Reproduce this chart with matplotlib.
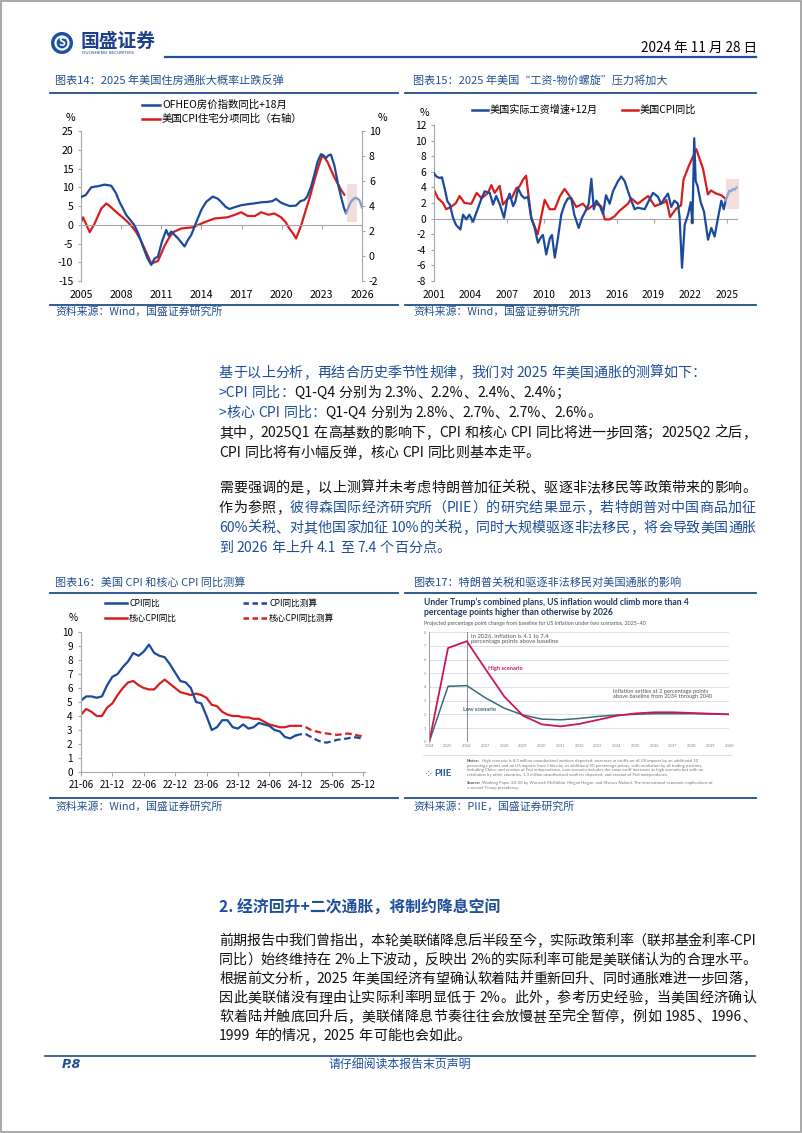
import numpy as np
import matplotlib
matplotlib.use("Agg")
import matplotlib.pyplot as plt
from matplotlib.lines import Line2D
from matplotlib.patches import Rectangle, Ellipse

plt.rcParams['font.family'] = ['Noto Sans CJK SC', 'DejaVu Sans']
plt.rcParams['axes.unicode_minus'] = False

# ---------------- data ----------------
# chart 14: OFHEO house price yoy (+18m, left axis) and CPI shelter yoy (right axis)
ofheo = [(2005.0, 7.4), (2005.35, 7.9), (2005.77, 10.0), (2006.3, 10.3), (2006.76, 10.7),
         (2007.26, 10.4), (2007.6, 8.5), (2007.88, 6.1), (2008.38, 2.6), (2008.7, 1.2),
         (2009.0, -0.2), (2009.3, -2.5), (2009.63, -5.8), (2009.95, -8.8), (2010.25, -10.7),
         (2010.5, -9.0), (2010.75, -8.5), (2011.05, -4.5), (2011.37, -1.4), (2011.55, -2.9),
         (2011.74, -1.8), (2012.24, -3.6), (2012.74, -5.8), (2013.0, -4.0), (2013.24, -2.7),
         (2013.73, 1.7), (2014.0, 4.0), (2014.35, 6.1), (2014.85, 7.5), (2015.2, 7.0),
         (2015.47, 6.1), (2015.8, 4.8), (2016.1, 4.2), (2016.5, 4.7), (2016.97, 5.2),
         (2017.5, 5.5), (2017.96, 5.7), (2018.5, 6.0), (2018.95, 6.1), (2019.3, 6.3),
         (2019.57, 6.9), (2019.9, 6.0), (2020.19, 5.5), (2020.6, 5.0), (2021.06, 5.1),
         (2021.4, 6.3), (2021.69, 6.6), (2021.9, 7.5), (2022.19, 10.1), (2022.45, 13.5),
         (2022.68, 16.8), (2022.93, 18.8), (2023.1, 18.5), (2023.31, 17.8), (2023.5, 18.5),
         (2023.68, 18.7), (2023.93, 15.9), (2024.2, 11.0), (2024.43, 7.5), (2024.65, 4.5),
         (2024.8, 3.1)]
ofheo_proj = [(2024.8, 3.1), (2025.0, 4.8), (2025.17, 6.1), (2025.4, 7.0), (2025.55, 7.2),
              (2025.8, 6.6), (2026.0, 4.6)]
shelter = [(2005.0, 2.7), (2005.15, 3.1), (2005.4, 2.5), (2005.65, 1.9), (2006.02, 2.6),
           (2006.52, 3.8), (2006.89, 4.2), (2007.14, 4.0), (2007.45, 3.7), (2007.76, 3.4),
           (2008.1, 3.1), (2008.51, 2.7), (2008.85, 2.3), (2009.13, 1.9), (2009.45, 1.3),
           (2009.75, 0.6), (2010.0, 0.0), (2010.25, -0.6), (2010.5, -0.5), (2010.75, -0.4),
           (2011.0, 0.2), (2011.24, 0.8), (2011.55, 1.4), (2011.87, 1.9), (2012.49, 2.2),
           (2013.36, 2.3), (2014.23, 2.7), (2014.98, 3.0), (2015.97, 3.1), (2016.5, 3.3),
           (2016.97, 3.5), (2017.46, 3.2), (2018.0, 3.2), (2018.46, 3.5), (2019.0, 3.3),
           (2019.45, 3.4), (2019.95, 3.1), (2020.3, 2.7), (2020.57, 2.2), (2020.85, 1.8),
           (2021.07, 1.4), (2021.44, 2.4), (2021.75, 3.5), (2022.07, 4.6), (2022.56, 6.5),
           (2022.85, 7.5), (2023.06, 8.1), (2023.25, 7.8), (2023.43, 7.5), (2023.93, 6.3),
           (2024.43, 5.3), (2024.68, 4.9)]
shade14 = (2024.85, 2025.65, 0.8, 11.0)
years14 = [2005, 2008, 2011, 2014, 2017, 2020, 2023, 2026]

# chart 15: real wage growth (+12m) and CPI yoy
wage = [(2001.0, 5.8), (2001.2, 5.4), (2001.47, 5.2), (2001.65, 5.3), (2001.9, 3.7),
        (2002.1, 2.2), (2002.3, 1.8), (2002.56, 0.1), (2002.8, -0.8), (2003.16, -1.4),
        (2003.38, 0.5), (2003.65, -0.1), (2003.9, 0.5), (2004.2, -0.4), (2004.6, 1.3),
        (2004.9, 2.6), (2005.15, 3.5), (2005.57, 3.3), (2005.84, 1.8), (2006.1, 2.9),
        (2006.4, 1.8), (2006.74, 0.1), (2007.0, 2.4), (2007.2, 3.2), (2007.48, 1.6),
        (2007.67, 2.2), (2007.89, 3.9), (2008.16, 3.0), (2008.43, 2.6), (2008.7, 2.8),
        (2008.97, 0.1), (2009.25, -1.2), (2009.52, -3.1), (2009.8, -2.3), (2009.93, -2.1),
        (2010.2, -4.6), (2010.5, -2.5), (2010.67, -2.1), (2010.9, -5.0), (2011.16, -2.5),
        (2011.43, 0.5), (2011.7, 1.8), (2011.98, 2.6), (2012.25, 2.6), (2012.5, 0.5),
        (2012.86, -1.2), (2013.13, 0.1), (2013.4, 0.9), (2013.68, 1.9), (2013.9, 5.1),
        (2014.1, 1.2), (2014.3, 2.3), (2014.58, 1.7), (2014.85, 0.6), (2015.1, 3.0),
        (2015.4, 1.9), (2015.67, 3.5), (2016.08, 4.8), (2016.35, 5.4), (2016.63, 4.8),
        (2016.9, 3.5), (2017.17, 2.3), (2017.45, 1.2), (2017.7, 1.4), (2018.27, 1.2),
        (2018.55, 2.1), (2018.95, 3.3), (2019.36, 2.8), (2019.6, 1.9), (2019.9, 2.6),
        (2020.18, 3.2), (2020.45, 1.5), (2020.7, 2.3), (2021.0, 1.9), (2021.13, 0.1),
        (2021.33, -6.3), (2021.55, -0.8), (2021.82, 0.5), (2022.04, 2.1), (2022.18, -0.6),
        (2022.33, 10.3), (2022.45, 4.8), (2022.6, 4.2), (2022.86, 2.1), (2023.13, 0.9),
        (2023.46, -2.7), (2023.73, -1.2), (2024.0, -2.3), (2024.28, 0.1), (2024.55, 2.3),
        (2024.75, 1.2), (2024.9, 2.3)]
wage_proj = [(2024.9, 2.3), (2025.05, 2.9), (2025.2, 3.6), (2025.35, 3.5), (2025.5, 3.8),
             (2025.65, 3.7), (2025.8, 4.0)]
cpi15 = [(2001.0, 3.7), (2001.33, 2.6), (2001.74, 2.0), (2002.0, 1.2), (2002.4, 1.5),
         (2002.8, 2.0), (2003.1, 2.9), (2003.5, 2.0), (2004.06, 1.9), (2004.5, 3.3),
         (2004.9, 2.6), (2005.2, 3.0), (2005.43, 3.3), (2005.7, 4.3), (2005.97, 3.3),
         (2006.38, 4.2), (2006.65, 1.8), (2007.07, 2.6), (2007.4, 2.7), (2007.75, 3.9),
         (2008.0, 4.1), (2008.3, 5.0), (2008.55, 5.5), (2008.97, 0.1), (2009.5, -2.0),
         (2010.07, 2.4), (2010.48, 1.2), (2010.9, 1.2), (2011.3, 2.8), (2011.7, 3.8),
         (2012.25, 2.6), (2012.66, 1.5), (2013.2, 1.9), (2013.6, 1.2), (2014.2, 1.9),
         (2014.7, 1.6), (2015.0, -0.1), (2015.4, -0.1), (2015.8, 0.3), (2016.2, 1.0),
         (2016.9, 1.9), (2017.17, 2.6), (2017.7, 1.9), (2018.55, 2.9), (2019.1, 1.6),
         (2019.9, 2.1), (2020.05, 2.4), (2020.35, 0.2), (2020.86, 1.3), (2021.25, 1.7),
         (2021.45, 5.0), (2021.9, 6.8), (2022.5, 8.9), (2023.05, 6.4), (2023.45, 3.1),
         (2023.7, 3.6), (2024.14, 3.2), (2024.55, 3.0), (2024.85, 2.6)]
shade15 = (2024.9, 2026.0, 1.2, 5.1)
years15 = [2001, 2004, 2007, 2010, 2013, 2016, 2019, 2022, 2025]

# chart 16: monthly CPI / core CPI yoy, actual and projected
cpi_actual = [5.1, 5.4, 5.4, 5.3, 5.4, 6.2, 6.8, 7.0, 7.5, 7.9, 8.5, 8.3, 8.6, 9.1, 8.5,
              8.3, 8.2, 7.7, 7.1, 6.5, 6.4, 6.0, 5.0, 4.9, 4.0, 3.0, 3.2, 3.7, 3.7, 3.2,
              3.1, 3.4, 3.1, 3.2, 3.5, 3.4, 3.3, 3.0, 2.9, 2.5, 2.4, 2.6]
core_actual = [4.1, 4.5, 4.3, 4.0, 4.0, 4.6, 4.9, 5.5, 6.0, 6.4, 6.5, 6.2, 6.0, 5.9, 5.9,
               6.3, 6.6, 6.3, 6.0, 5.7, 5.6, 5.5, 5.6, 5.5, 5.3, 4.8, 4.7, 4.3, 4.1, 4.0,
               4.0, 3.9, 3.9, 3.8, 3.8, 3.6, 3.4, 3.3, 3.2, 3.2, 3.3, 3.3]
cpi_fcst = [2.6, 2.7, 2.7, 2.5, 2.3, 2.15, 2.1, 2.2, 2.3, 2.35, 2.4, 2.5, 2.45, 2.35]
core_fcst = [3.3, 3.3, 3.2, 3.0, 2.9, 2.8, 2.75, 2.7, 2.65, 2.7, 2.75, 2.7, 2.6, 2.55]
labels16 = ['21-06', '21-12', '22-06', '22-12', '23-06', '23-12', '24-06', '24-12', '25-06', '25-12']

# chart 17: PIIE scenarios
piie_years = list(range(2024, 2041))
piie_high = [0, 6.85, 7.35, 5.3, 3.3, 1.9, 1.27, 1.12, 1.3, 1.6, 1.9, 2.07, 2.15, 2.15, 2.1, 2.05, 2.0]
piie_low = [0, 4.05, 4.1, 3.2, 2.45, 1.95, 1.65, 1.6, 1.7, 1.85, 1.95, 2.0, 2.05, 2.05, 2.05, 2.02, 2.0]

# ---------------- page ----------------
W, H = 802, 1133
BLUE = '#1F4E99'
TBLUE = '#24508F'
LINEB = '#1F4E8C'
GRID = '#A6A6A6'
C_BLUE = '#1B4A9C'
C_RED = '#D71E1E'

fig = plt.figure(figsize=(W / 100, H / 100), dpi=100)
renderer = fig.canvas.get_renderer()


def fy(y):
    return 1 - y / H


def add_ax(x0, y0, x1, y1):
    return fig.add_axes([x0 / W, 1 - y1 / H, (x1 - x0) / W, (y1 - y0) / H])


def txt(x, y, s, **kw):
    kw.setdefault('va', 'center')
    return fig.text(x / W, fy(y), s, **kw)


def hline(x0, x1, y, color=LINEB, lw=1.3, ls='-'):
    fig.add_artist(Line2D([x0 / W, x1 / W], [fy(y), fy(y)], color=color, lw=lw, ls=ls))


def key(x0, x1, y, color, label, tx, size, ls='-', lw=1.8):
    hline(x0, x1, y, color=color, lw=lw, ls=ls)
    txt(tx, y, label, size=size)


# page frame
fig.add_artist(Rectangle((0.001, 0.001), 0.998, 0.998, transform=fig.transFigure,
                         fill=False, edgecolor='#9A9A9A', lw=1.2))

# header
fig.add_artist(Ellipse((62 / W, fy(43)), 22 / W, 22 / H, transform=fig.transFigure,
                       facecolor='#1D4FA3', edgecolor='none'))
fig.add_artist(Ellipse((62 / W, fy(43)), 13 / W, 13 / H, transform=fig.transFigure,
                       facecolor='none', edgecolor='white', lw=1.6))
txt(62, 43, 'S', size=8, color='white', weight='bold', ha='center')
txt(81, 41, '国盛证券', size=13.5, weight='bold', color='#1D3F8A')
txt(82, 53.5, 'GUOSHENG SECURITIES', size=3.2, color='#1D3F8A', family='DejaVu Sans')
hline(165, 756, 56.5, color='#1F4E9A', lw=1.6)
txt(757, 48, '2024 年 11 月 28 日', size=9.8, ha='right')

# chart titles / sources
txt(55, 80, '图表14：2025 年美国住房通胀大概率止跌反弹', size=8, color=TBLUE, style='italic')
hline(50, 398, 93)
txt(413, 80, '图表15：2025 年美国“工资-物价螺旋”压力将加大', size=8, color=TBLUE, style='italic')
hline(405, 756, 93)
hline(50, 398, 304.5)
txt(55, 312, '资料来源：Wind，国盛证券研究所', size=7.8, color=TBLUE, style='italic')
hline(405, 756, 304.5)
txt(413, 312, '资料来源：Wind，国盛证券研究所', size=7.8, color=TBLUE, style='italic')

txt(55, 582, '图表16：美国 CPI 和核心 CPI 同比测算', size=8, color=TBLUE, style='italic')
hline(50, 398, 593)
txt(413, 582, '图表17：特朗普关税和驱逐非法移民对美国通胀的影响', size=8, color=TBLUE, style='italic')
hline(405, 756, 593)
hline(50, 398, 798)
txt(55, 807, '资料来源：Wind，国盛证券研究所', size=7.8, color=TBLUE, style='italic')
hline(405, 756, 798)
txt(413, 807, '资料来源：PIIE，国盛证券研究所', size=7.8, color=TBLUE, style='italic')

# ---------------- chart 14 ----------------
ax = add_ax(81, 131, 362, 281)
axr = ax.twinx()
x, y = zip(*ofheo)
xp, yp = zip(*ofheo_proj)
xs, ys = zip(*shelter)
ax.add_patch(Rectangle((shade14[0], shade14[2]), shade14[1] - shade14[0], shade14[3] - shade14[2],
                       facecolor='#F3DEDE', edgecolor='none', zorder=0))
ax.axhline(0, color=GRID, lw=0.8, zorder=1)
ax.plot(years14[1:], [0] * (len(years14) - 1), ls='none', marker=3, ms=3, mew=0.8, color=GRID)
ax.plot(x, y, color=C_BLUE, lw=1.6, zorder=3)
ax.plot(xp, yp, color='#7E9CCD', lw=1.6, zorder=3)
axr.plot(xs, ys, color=C_RED, lw=1.6, zorder=2)
ax.set_zorder(axr.get_zorder() + 1)
ax.patch.set_visible(False)
ax.set_xlim(2005, 2026)
ax.set_ylim(-15, 25)
axr.set_ylim(-2, 10)
ax.set_xticks(years14)
ax.set_yticks(range(-15, 26, 5))
axr.set_yticks(range(-2, 11, 2))
ax.tick_params(axis='x', length=0, pad=6.5, labelsize=7.6)
ax.tick_params(axis='y', length=2, color=GRID, pad=3.5, labelsize=7.6)
axr.tick_params(axis='y', length=2, color=GRID, pad=3, labelsize=7.6)
for a in (ax, axr):
    for s in a.spines.values():
        s.set_visible(False)
ax.spines['left'].set_visible(True)
ax.spines['left'].set_color(GRID)
axr.spines['right'].set_visible(True)
axr.spines['right'].set_color(GRID)
txt(66, 118, '%', size=7.6)
txt(378, 118, '%', size=7.6)
key(142, 160, 104.5, C_BLUE, 'OFHEO房价指数同比+18月', 162, 7.5)
key(142, 160, 119, C_RED, '美国CPI住宅分项同比（右轴）', 162, 7.5)

# ---------------- chart 15 ----------------
ax = add_ax(434, 125, 739, 281)
x, y = zip(*wage)
xp, yp = zip(*wage_proj)
xc, yc = zip(*cpi15)
ax.add_patch(Rectangle((shade15[0], shade15[2]), shade15[1] - shade15[0], shade15[3] - shade15[2],
                       facecolor='#F3DEDE', edgecolor='none', zorder=0))
ax.plot([2001, 2025.85], [0, 0], color=GRID, lw=0.8, zorder=1)
ax.plot(years15[1:], [0] * (len(years15) - 1), ls='none', marker=3, ms=3, mew=0.8, color=GRID)
ax.plot(xc, yc, color=C_RED, lw=1.6, zorder=2)
ax.plot(x, y, color=C_BLUE, lw=1.6, zorder=3)
ax.plot(xp, yp, color='#8FA6D6', lw=1.6, zorder=3)
ax.set_xlim(2001, 2026)
ax.set_ylim(-8, 12)
ax.set_xticks(years15)
ax.set_yticks(range(-8, 13, 2))
ax.tick_params(axis='x', length=0, pad=6.5, labelsize=7.4)
ax.tick_params(axis='y', length=2, color=GRID, pad=3.5, labelsize=7.4)
for s in ax.spines.values():
    s.set_visible(False)
ax.spines['left'].set_visible(True)
ax.spines['left'].set_color(GRID)
txt(420, 113, '%', size=7.6)
key(472, 488, 110, C_BLUE, '美国实际工资增速+12月', 490, 7.3)
key(622, 638, 110, C_RED, '美国CPI同比', 640, 7.3)

# ---------------- chart 16 ----------------
ax = add_ax(81, 632, 365, 772)
n_act = len(cpi_actual)
pos_act = np.arange(n_act)
pos_fc = np.arange(n_act - 1, n_act - 1 + len(cpi_fcst))
ax.plot(pos_act, core_actual, color=C_RED, lw=1.6)
ax.plot(pos_act, cpi_actual, color=C_BLUE, lw=1.6)
ax.plot(pos_fc, core_fcst, color=C_RED, lw=1.6, ls=(0, (3, 1.6)))
ax.plot(pos_fc, cpi_fcst, color=C_BLUE, lw=1.6, ls=(0, (3, 1.6)))
ax.set_xlim(0, 54.3)
ax.set_ylim(0, 10)
ax.set_xticks(np.arange(0, 6 * len(labels16), 6))
ax.set_xticklabels(labels16)
ax.set_yticks(range(0, 11))
ax.tick_params(axis='x', length=3, color=GRID, pad=3, labelsize=7)
ax.tick_params(axis='y', length=2, color=GRID, pad=4, labelsize=7.2)
ax.spines['top'].set_visible(False)
ax.spines['right'].set_visible(False)
ax.spines['left'].set_color(GRID)
ax.spines['bottom'].set_color(GRID)
txt(69, 618, '%', size=7.2)
key(105, 127, 603, C_BLUE, 'CPI同比', 129, 6.2)
key(243, 267, 603, C_BLUE, 'CPI同比测算', 269, 6.2, ls=(0, (2.2, 1.4)))
key(105, 127, 618, C_RED, '核心CPI同比', 129, 6.2)
key(243, 267, 618, C_RED, '核心CPI同比测算', 269, 6.2, ls=(0, (2.2, 1.4)))

# ---------------- chart 17 (PIIE figure) ----------------
NAVY = '#1F3A5C'
P_HIGH = '#C8175D'
P_LOW = '#3D6A7B'
txt(424, 607.5, 'Under Trump’s combined plans, US inflation would climb more than 4\n'
    'percentage points higher than otherwise by 2026', size=6.2, weight='bold',
    color=NAVY, family='Lato', linespacing=1.1)
txt(424, 623, 'Projected percentage point change from baseline for US inflation under two scenarios, 2025–40',
    size=3.8, color='#555555', family='Lato')
ax = add_ax(429.3, 632.3, 729.3, 741.7)
ax.set_xlim(2024, 2040)
ax.set_ylim(0, 8)
ax.set_yticks(range(0, 9))
ax.set_xticks(piie_years)
ax.grid(axis='y', color='#D3DCE4', lw=0.6)
ax.axvline(2026, color='#8C8C8C', lw=0.7)
ax.plot(piie_years, piie_low, color=P_LOW, lw=1.1)
ax.plot(piie_years, piie_high, color=P_HIGH, lw=1.3)
for s in ax.spines.values():
    s.set_visible(False)
ax.spines['left'].set_visible(True)
ax.spines['left'].set_color('#9A9A9A')
ax.spines['left'].set_linewidth(0.7)
ax.tick_params(length=0, labelsize=3, labelcolor='#8A8A8A', pad=2)
for t in ax.get_xticklabels() + ax.get_yticklabels():
    t.set_family('Lato')
ax.text(2026.25, 7.9, 'In 2026, inflation is 4.1 to 7.4\npercentage points above baseline',
        size=4.3, color='#555555', va='top', family='Lato', linespacing=1.15)
ax.text(2027.15, 5.37, 'High scenario', size=4.1, color=P_HIGH, weight='bold', va='center', family='Lato')
ax.text(2025.78, 2.32, 'Low scenario', size=4.1, color=P_LOW, weight='bold', va='center', family='Lato')
ax.text(2033.8, 3.48, 'Inflation settles at 2 percentage points\nabove baseline from 2034 through 2040',
        size=4.1, color='#555555', va='center', family='Lato', linespacing=1.15)
hline(423, 732, 755, color='#D9D9D9', lw=0.6)
notes = ['High scenario is 8.3 million unauthorized workers deported; increases in tariffs on all US imports by an additional 10',
         'percentage points and on US imports from China by an additional 50 percentage points, with retaliation by all trading partners,',
         'including China; and erosion of Fed independence. Low scenario includes the same tariff increases as high scenario but with no',
         'retaliation by other countries, 1.3 million unauthorized workers deported, and erosion of Fed independence.']
source = ['Working Paper 24-20 by Warwick McKibbin, Megan Hogan, and Marcus Noland. The international economic implications of',
          'a second Trump presidency.']
txt(467, 761, 'Notes:', size=3.1, weight='bold', color='#555555', family='Lato')
for i, line in enumerate(notes):
    txt(467 + (15 if i == 0 else 0), 761 + 4.6 * i, line, size=3.1, color='#777777', family='Lato')
txt(467, 783, 'Source:', size=3.1, weight='bold', color='#555555', family='Lato')
for i, line in enumerate(source):
    txt(467 + (15 if i == 0 else 0), 783 + 4.6 * i, line, size=3.1, color='#777777', family='Lato')
txt(424, 774, '⁘', size=8, color='#2B5C9A', family='DejaVu Sans')
txt(434, 774, 'PIIE', size=7, weight='bold', color='#2B5C9A', family='Lato')

# ---------------- body text ----------------
BODY = 10.1
K = '#111111'


def body_line(y, runs, justify=True, x0=219, x1=756, size=BODY):
    toks = []
    for s, c in runs:
        buf = ''
        for ch in s:
            if ch.isascii() and ch != ' ':
                buf += ch
                continue
            if buf:
                toks.append((buf, c))
                buf = ''
            toks.append((ch, c))
        if buf:
            toks.append((buf, c))
    widths = []
    for s, c in toks:
        if s == ' ':
            widths.append(size * 0.25 * 100 / 72)
        else:
            t = fig.text(0, 0, s, size=size)
            widths.append(t.get_window_extent(renderer).width)
            t.remove()
    gap = (x1 - x0 - sum(widths)) / (len(toks) - 1) if justify else 0
    xx = x0
    for (s, c), w in zip(toks, widths):
        if s != ' ':
            fig.text(xx / W, fy(y + 5), s, size=size, color=c, va='baseline')
        xx += w + gap


body_line(372, [('基于以上分析，再结合历史季节性规律，我们对 2025 年美国通胀的测算如下：', BLUE)], justify=False)
body_line(392, [('>CPI 同比：', BLUE), ('Q1-Q4 分别为 2.3%、2.2%、2.4%、2.4%；', K)], justify=False)
body_line(412, [('>核心 CPI 同比：', BLUE), ('Q1-Q4 分别为 2.8%、2.7%、2.7%、2.6%。', K)], justify=False)
body_line(432, [('其中，2025Q1 在高基数的影响下，CPI 和核心 CPI 同比将进一步回落；2025Q2 之后，', K)])
body_line(452, [('CPI 同比将有小幅反弹，核心 CPI 同比则基本走平。', K)], justify=False)
body_line(487, [('需要强调的是，以上测算并未考虑特朗普加征关税、驱逐非法移民等政策带来的影响。', K)])
body_line(507, [('作为参照，', K), ('彼得森国际经济研究所（PIIE）的研究结果显示，若特朗普对中国商品加征', BLUE)])
body_line(527, [('60%关税、对其他国家加征 10%的关税，同时大规模驱逐非法移民，将会导致美国通胀', BLUE)])
body_line(547, [('到 2026 年上升 4.1 至 7.4 个百分点。', BLUE)], justify=False)

txt(219, 908, '2. 经济回升+二次通胀，将制约降息空间', size=11.4, weight='bold', color='#1F4E9A')
body_line(940, [('前期报告中我们曾指出，本轮美联储降息后半段至今，实际政策利率（联邦基金利率-CPI', K)])
body_line(959, [('同比）始终维持在 2%上下波动，反映出 2%的实际利率可能是美联储认为的合理水平。', K)])
body_line(978, [('根据前文分析，2025 年美国经济有望确认软着陆并重新回升、同时通胀难进一步回落，', K)])
body_line(997, [('因此美联储没有理由让实际利率明显低于 2%。此外，参考历史经验，当美国经济确认', K)])
body_line(1016, [('软着陆并触底回升后，美联储降息节奏往往会放慢甚至完全暂停，例如 1985、1996、', K)])
body_line(1035, [('1999 年的情况，2025 年可能也会如此。', K)], justify=False)

# footer
hline(45, 755, 1056, color=LINEB, lw=1.2)
txt(62, 1065, 'P.8', size=9, weight='bold', style='italic', color='#1F4E9A', family='DejaVu Sans')
txt(400, 1065, '请仔细阅读本报告末页声明', size=8.6, color='#1F4E9A', ha='center', style='italic')

fig.savefig('out.png', dpi=100)
